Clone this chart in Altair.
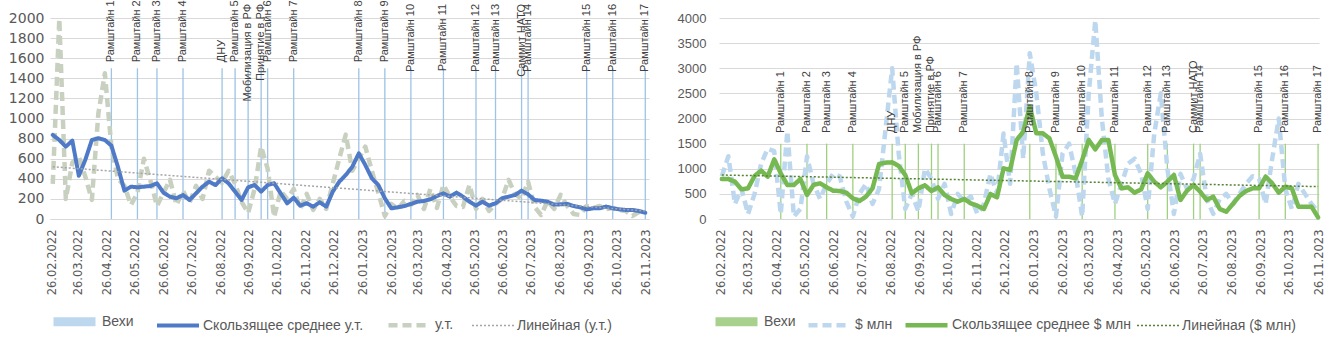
import altair as alt
import pandas as pd

START = "2022-02-26"
N_WEEKS = 92
week_dates = pd.date_range(START, periods=N_WEEKS, freq="7D").strftime("%Y-%m-%d").tolist()
trend_dates = [week_dates[0], week_dates[-1]]

# ---- left panel: у.т. ----
ut_values = [350, 1990, 200, 560, 620, 420, 190, 1050, 1450, 720,
             400, 330, 140, 260, 600, 380, 130, 260, 390, 140,
             280, 160, 330, 200, 480, 420, 360, 480, 350, 170,
             60, 300, 720, 500, 20, 280, 200, 300, 100, 250,
             90, 200, 100, 350, 600, 840, 480, 600, 720, 480,
             260, 30, 150, 100, 180, 140, 240, 100, 300, 110,
             340, 220, 130, 120, 340, 100, 200, 80, 150, 200,
             390, 250, 200, 370, 120, 40, 180, 100, 240, 130,
             50, 40, 130, 110, 130, 100, 110, 90, 80, 30,
             70, 60]
ut_moving_avg = [836, 786, 720, 780, 430, 590, 786, 803, 786, 730,
                 520, 282, 322, 315, 322, 328, 355, 262, 222, 206,
                 239, 189, 255, 322, 371, 338, 405, 355, 272, 189,
                 315, 338, 272, 338, 355, 255, 156, 212, 133, 156,
                 123, 166, 123, 272, 371, 438, 520, 653, 537, 405,
                 338, 206, 106, 116, 129, 149, 172, 179, 196, 229,
                 255, 222, 262, 222, 172, 133, 172, 133, 156, 206,
                 222, 239, 282, 245, 189, 182, 172, 143, 146, 149,
                 129, 116, 96, 106, 106, 123, 106, 96, 90, 90,
                 80, 63]
ut_trend = [520, 80]

# ---- right panel: $ млн ----
usd_values = [850, 1250, 300, 600, 100, 500, 1100, 1400, 1350, 100,
              1750, 50, 200, 1250, 700, 400, 700, 900, 850, 350,
              50, 500, 700, 300, 600, 1800, 3000, 1300, 200, 500,
              150, 1000, 800, 400, 700, 100, 500, 350, 450, 100,
              300, 900, 500, 1700, 700, 3100, 1200, 3300, 2500, 1300,
              600, 50, 1300, 1500, 900, 50, 2500, 3950, 2000, 800,
              300, 700, 1100, 1200, 900, 200, 1700, 2500, 1000, 100,
              900, 600, 800, 1300, 400, 100, 400, 500, 300, 500,
              700, 850, 800, 300, 1200, 2000, 600, 200, 700, 500,
              300, 150]
usd_moving_avg = [796, 796, 743, 590, 610, 856, 962, 842, 1187, 909,
                  677, 677, 796, 478, 677, 710, 630, 564, 557, 524,
                  411, 358, 444, 610, 1094, 1121, 1128, 1055, 876, 511,
                  610, 670, 557, 630, 478, 398, 345, 398, 312, 265,
                  199, 497, 431, 1008, 975, 1572, 1738, 2235, 1705, 1705,
                  1605, 1240, 842, 842, 809, 1174, 1572, 1386, 1572, 1572,
                  876, 610, 630, 524, 590, 909, 743, 630, 743, 876,
                  378, 564, 677, 544, 378, 444, 199, 146, 298, 458,
                  557, 610, 610, 842, 710, 524, 643, 610, 245, 245,
                  245, 33]
usd_trend = [875, 645]

# ---- milestones ("Вехи") ----
milestone_labels = ["Рамштайн 1", "Рамштайн 2", "Рамштайн 3", "Рамштайн 4", "ДНУ",
                    "Рамштайн 5", "Мобилизация в РФ", "Принятие в РФ", "Рамштайн 6",
                    "Рамштайн 7", "Рамштайн 8", "Рамштайн 9", "Рамштайн 10",
                    "Рамштайн 11", "Рамштайн 12", "Рамштайн 13", "Саммит НАТО",
                    "Рамштайн 14", "Рамштайн 15", "Рамштайн 16", "Рамштайн 17"]
milestone_dates = ["2022-04-30", "2022-05-28", "2022-06-18", "2022-07-16", "2022-08-27",
                   "2022-09-10", "2022-09-24", "2022-10-08", "2022-10-15", "2022-11-12",
                   "2023-01-21", "2023-02-18", "2023-03-18", "2023-04-22", "2023-05-27",
                   "2023-06-17", "2023-07-15", "2023-07-22", "2023-09-23", "2023-10-21",
                   "2023-11-25"]
milestone_ut = [1500] * 21
milestone_usd = [1500] * 21

tick_months = [(2022, m) for m in range(2, 13)] + [(2023, m) for m in range(1, 12)]


def ts(dates):
    return (pd.to_datetime(dates).astype("int64") // 10**6).tolist()


def panel(values, ma, trend, ms_vals, names, colors, bar_color, dashes, widths, order,
          y_max, y_step, y_font, y_font_size, y_pad, x_end, width,
          text_short, text_long, long_thr, legend_x, legend_y, col_pad):
    n_vekhi, n_val, n_ma, n_lin = names
    series_df = pd.DataFrame({"t": ts(week_dates), "val": values, "series": n_val})
    ma_df = pd.DataFrame({"t": ts(week_dates), "val": ma, "series": n_ma})
    trend_df = pd.DataFrame({"t": ts(trend_dates), "val": trend, "series": n_lin})
    ms_df = pd.DataFrame({"t": ts(milestone_dates), "val": ms_vals, "label": milestone_labels})

    x = alt.X("t:T", title=None,
              scale=alt.Scale(type="utc", domain=[alt.DateTime(year=2022, month=2, date=23, utc=True), x_end]),
              axis=alt.Axis(values=[alt.DateTime(year=yy, month=mm, date=26, utc=True) for yy, mm in tick_months],
                            labelExpr="utcFormat(datum.value, '%d.%m.%Y')", labelAngle=270,
                            labelFont="DejaVu Sans", labelFontSize=11.5, labelColor="#595959",
                            labelPadding=10, ticks=False, domainColor="#d9d9d9", grid=False,
                            labelOverlap=False, labelFlush=False))
    y_scale = alt.Scale(domain=[0, y_max], nice=False)
    y_axis = alt.Axis(values=list(range(0, y_max + 1, y_step)), format="d", labelFont=y_font,
                      labelFontSize=y_font_size, labelColor="#595959", labelPadding=y_pad,
                      labelOverlap=False, labelFlush=False, tickCount=len(range(0, y_max + 1, y_step)),
                      ticks=False, domain=False, gridColor="#d9d9d9", gridWidth=1)
    y = alt.Y("val:Q", title=None, scale=y_scale, axis=y_axis)

    def y_datum(v):
        return alt.Y(datum=v, type="quantitative", title=None, scale=y_scale, axis=y_axis)

    dom = [names[k] for k in order]
    legend = alt.Legend(orient="none", legendX=legend_x, legendY=legend_y, direction="horizontal",
                        title=None, symbolType="stroke", symbolSize=1764,
                        labelFont="Liberation Sans", labelFontSize=14, labelColor="#595959",
                        labelLimit=400, columnPadding=col_pad, labelOffset=2, padding=0)
    color = alt.Color("series:N", scale=alt.Scale(domain=dom, range=[colors[k] for k in order]), legend=legend)
    dash = alt.StrokeDash("series:N", scale=alt.Scale(type="ordinal", domain=dom, range=[dashes[k] for k in order]), legend=legend)
    sw = alt.StrokeWidth("series:N", scale=alt.Scale(type="ordinal", domain=dom, range=[widths[k] for k in order]), legend=legend)

    rules = alt.Chart(ms_df).mark_rule(color=bar_color, strokeWidth=1.3).encode(
        x=x, y=y, y2=alt.datum(0))
    dashed = alt.Chart(series_df).mark_line(strokeJoin="round").encode(
        x=x, y=y, color=color, strokeDash=dash, strokeWidth=sw)
    avg = alt.Chart(ma_df).mark_line(strokeJoin="round", strokeCap="round").encode(
        x=x, y=y, color=color, strokeDash=dash, strokeWidth=sw)
    trend_line = alt.Chart(trend_df).mark_line().encode(
        x=x, y=y, color=color, strokeDash=dash, strokeWidth=sw)
    txt_short = alt.Chart(ms_df).transform_filter(f"length(datum.label) <= {long_thr}").mark_text(
        angle=270, align="left", baseline="middle", font="Liberation Sans", fontSize=11,
        color="#404040").encode(x=x, y=y_datum(text_short), text="label:N")
    layers = [rules, dashed, avg, trend_line, txt_short]
    if text_long is not None:
        txt_long = alt.Chart(ms_df).transform_filter(f"length(datum.label) > {long_thr}").mark_text(
            angle=270, align="right", baseline="middle", font="Liberation Sans", fontSize=11,
            color="#404040").encode(x=x, y=y_datum(text_long), text="label:N")
        layers.append(txt_long)
    return alt.layer(*layers).properties(width=width, height=201)


left = panel(
    ut_values, ut_moving_avg, ut_trend, milestone_ut,
    ["Вехи", "у.т.", "Скользящее среднее у.т.", "Линейная (у.т.)"],
    ["#bdd7ee", "#c8d0c0", "#4e7ac7", "#a5a5a5"], "#9dc3e6",
    [[1, 0], [9, 5], [1, 0], [2, 2]], [9, 4.5, 4, 1.5], [0, 2, 1, 3],
    2000, 200, "DejaVu Sans", 14, 6,
    alt.DateTime(year=2023, month=11, date=29, utc=True), 599,
    1560, 2140, 10, -1, 278, 15)

right = panel(
    usd_values, usd_moving_avg, usd_trend, milestone_usd,
    ["Вехи", "$ млн", "Скользящее среднее $ млн", "Линейная ($ млн)"],
    ["#a9d18e", "#bdd7ee", "#76b852", "#548235"], "#9fd07e",
    [[1, 0], [9, 5], [1, 0], [2, 2]], [9, 4.5, 4.5, 1.5], [0, 1, 2, 3],
    4000, 500, "Liberation Sans", 13, 13,
    alt.DateTime(year=2023, month=11, date=26, utc=True), 600,
    1710, None, 100, -8, 278, 3)

chart = alt.hconcat(left, right, spacing=25).resolve_scale(
    color="independent", strokeDash="independent", strokeWidth="independent",
    y="independent", x="independent"
).properties(
    padding={"left": 8, "top": 0, "right": 5, "bottom": 0},
    background="white"
).configure_view(stroke=None)

chart.save("out.html", embed_options={"renderer": "svg", "actions": False})
